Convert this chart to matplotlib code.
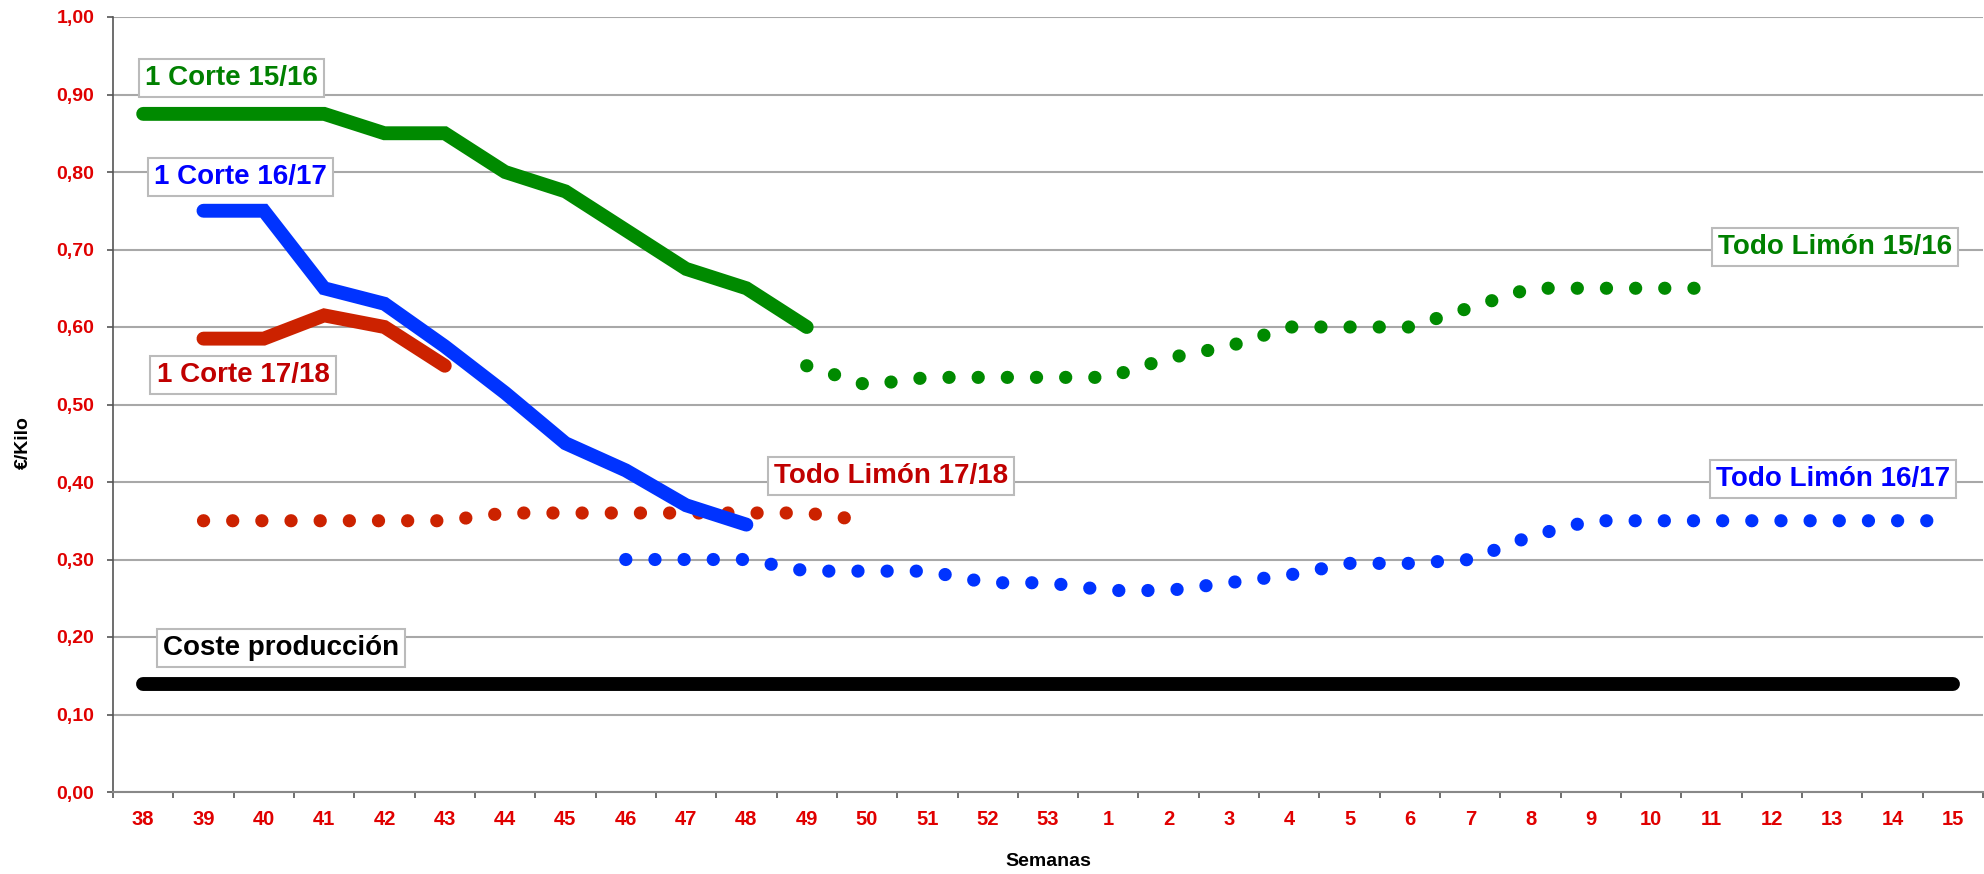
"""Precios limón: 1 Corte / Todo Limón por campaña, €/Kilo por semana"""

import matplotlib
matplotlib.use("Agg")
import matplotlib.pyplot as plt
from matplotlib.ticker import FixedLocator, NullFormatter, FuncFormatter

plt.rcParams["font.family"] = ["Liberation Sans", "DejaVu Sans"]
plt.rcParams["font.weight"] = "bold"

# semanas de campaña (38..53, 1..15)
semanas = [str(s) for s in list(range(38, 54)) + list(range(1, 16))]

# 1 Corte 15/16: semanas 38..49
corte_1516 = [0.875, 0.875, 0.875, 0.875, 0.85, 0.85, 0.80, 0.775, 0.725, 0.675, 0.65, 0.60]
# 1 Corte 16/17: semanas 39..48
corte_1617 = [0.75, 0.75, 0.65, 0.63, 0.575, 0.515, 0.45, 0.415, 0.37, 0.345]
# 1 Corte 17/18: semanas 39..43
corte_1718 = [0.585, 0.585, 0.615, 0.60, 0.55]

# Todo Limón 15/16: semanas 49..11
todo_1516 = [0.55, 0.525, 0.535, 0.535, 0.535, 0.535, 0.56, 0.575, 0.60, 0.60, 0.60,
             0.625, 0.65, 0.65, 0.65, 0.65]
# Todo Limón 16/17: semanas 46..15
todo_1617 = [0.30, 0.30, 0.30, 0.285, 0.285, 0.285, 0.27, 0.27, 0.26, 0.26, 0.27,
             0.28, 0.295, 0.295, 0.30, 0.33, 0.35, 0.35, 0.35, 0.35, 0.35, 0.35, 0.35]
# Todo Limón 17/18: semanas 39..50
todo_1718 = [0.35, 0.35, 0.35, 0.35, 0.35, 0.36, 0.36, 0.36, 0.36, 0.36, 0.36, 0.35]

# coste de producción, todas las semanas
coste = [0.14] * len(semanas)

VERDE = "#008A00"
AZUL = "#0033FF"
ROJO = "#CC2200"


def _idx(sem):
    return semanas.index(str(sem))


def _xs(start, n):
    i0 = _idx(start)
    return list(range(i0, i0 + n))


fig = plt.figure(figsize=(19.84, 8.74), dpi=100)
ax = fig.add_axes([113 / 1984, 1 - 792 / 874, 1870 / 1984, 775 / 874])

lw = 10
dots = (0, (0.01, 2.2))

ax.plot(_xs(38, len(coste)), coste, color="black", lw=10, solid_capstyle="round", zorder=3)

ax.plot(_xs(38, len(corte_1516)), corte_1516, color=VERDE, lw=lw,
        solid_capstyle="round", solid_joinstyle="miter", zorder=4)
ax.plot(_xs(39, len(corte_1617)), corte_1617, color=AZUL, lw=lw,
        solid_capstyle="round", solid_joinstyle="miter", zorder=4)
ax.plot(_xs(39, len(corte_1718)), corte_1718, color=ROJO, lw=lw,
        solid_capstyle="round", solid_joinstyle="miter", zorder=4)

# Todo Limón: línea de puntos redondos
for sem0, vals, col in [(49, todo_1516, VERDE), (46, todo_1617, AZUL), (39, todo_1718, ROJO)]:
    ax.plot(_xs(sem0, len(vals)), vals, color=col, lw=9.5, linestyle=dots,
            dash_capstyle="round", zorder=3)

# etiquetas con caja
box = dict(boxstyle="square,pad=0.22", facecolor="white", edgecolor="#BBBBBB", lw=1.5)
etiquetas = [
    (1.46, 0.921, "1 Corte 15/16", "#008000"),
    (1.62, 0.794, "1 Corte 16/17", "#0000FF"),
    (1.655, 0.538, "1 Corte 17/18", "#C00000"),
    (12.40, 0.408, "Todo Limón 17/18", "#C00000"),
    (28.05, 0.703, "Todo Limón 15/16", "#008000"),
    (28.01, 0.404, "Todo Limón 16/17", "#0000FF"),
    (2.285, 0.186, "Coste producción", "black"),
]
for x, y, txt, col in etiquetas:
    ax.text(x, y, txt, color=col, fontsize=20, fontweight="bold", ha="center",
            va="center", bbox=box, zorder=6)

ax.set_xlim(-0.5, len(semanas) - 0.5)
ax.set_ylim(0, 1.0)

ax.xaxis.set_major_locator(FixedLocator([i - 0.5 for i in range(len(semanas) + 1)]))
ax.xaxis.set_major_formatter(NullFormatter())
ax.xaxis.set_minor_locator(FixedLocator(range(len(semanas))))
ax.set_xticklabels(semanas, minor=True)
ax.tick_params(axis="x", which="major", length=4.5, width=1.2, color="#555555", direction="out")
ax.tick_params(axis="x", which="minor", length=0, pad=13, labelsize=14.5,
               labelcolor="#E00000")

ax.set_yticks([i / 10 for i in range(11)])
ax.yaxis.set_major_formatter(FuncFormatter(lambda v, p: f"{v:.2f}".replace(".", ",")))
ax.tick_params(axis="y", length=4.5, width=1.2, color="#555555", labelsize=14,
               labelcolor="#E00000", pad=9)

for lab in ax.get_xticklabels(minor=True) + ax.get_yticklabels():
    lab.set_fontweight("bold")

ax.grid(axis="y", color="#A8A8A8", lw=1.5)
ax.set_axisbelow(True)
for s in ["top", "right"]:
    ax.spines[s].set_visible(False)
ax.spines["left"].set_color("#555555")
ax.spines["bottom"].set_color("#888888")
ax.spines["left"].set_linewidth(1.2)
ax.spines["bottom"].set_linewidth(1.5)

fig.text(23 / 1984, 1 - 443 / 874, "€/Kilo", rotation=90, fontsize=14,
         fontweight="bold", ha="center", va="center")
fig.text(1048 / 1984, 1 - 861 / 874, "Semanas", fontsize=14, fontweight="bold",
         ha="center", va="center")

fig.savefig("out.png", dpi=100)
